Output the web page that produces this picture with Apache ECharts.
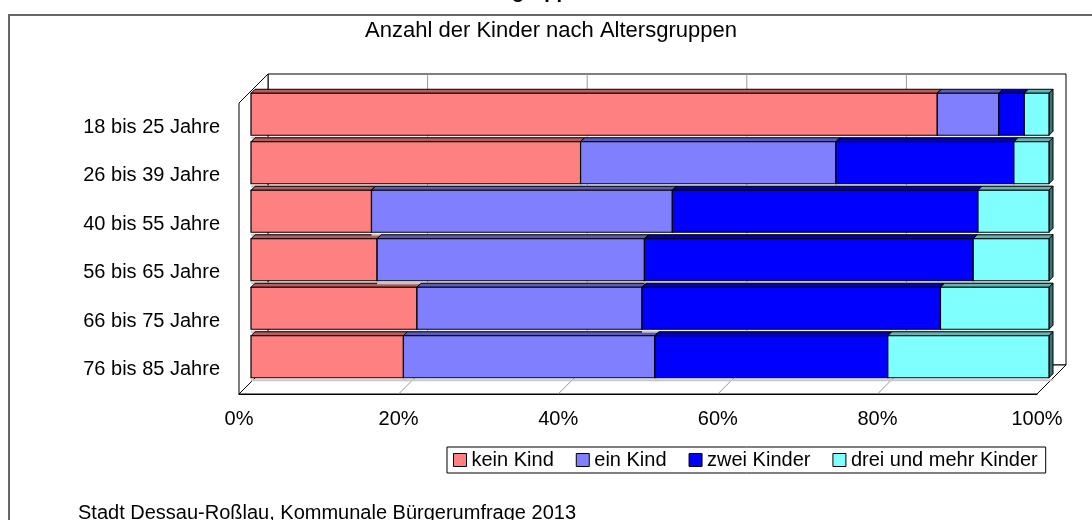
<!DOCTYPE html>
<html>
<head>
<meta charset="utf-8">
<title>Anzahl der Kinder nach Altersgruppen</title>
<script src="https://cdn.jsdelivr.net/npm/echarts@6/dist/echarts.min.js"></script>
<style>
html, body { margin: 0; padding: 0; background: #fff; }
#chart { width: 1092px; height: 520px; }
</style>
</head>
<body>
<div id="chart"></div>
<script>
// Daten (Prozent je Altersgruppe)
var categories = ['18 bis 25 Jahre', '26 bis 39 Jahre', '40 bis 55 Jahre', '56 bis 65 Jahre', '66 bis 75 Jahre', '76 bis 85 Jahre'];
var keinKind   = [86.0, 41.3, 15.1, 15.8, 20.8, 19.1];
var einKind    = [7.7, 32.0, 37.7, 33.5, 28.2, 31.5];
var zweiKinder = [3.2, 22.3, 38.3, 41.2, 37.4, 29.2];
var dreiKinder = [3.1, 4.4, 8.9, 9.5, 13.6, 20.2];
var seriesNames = ['kein Kind', 'ein Kind', 'zwei Kinder', 'drei und mehr Kinder'];
var xTicks = [0, 20, 40, 60, 80, 100];

var colors = ['#ff8080', '#8080ff', '#0000ff', '#80ffff'];
var FONT = '"Liberation Sans", Arial, sans-serif';
var BACK = 29;   // Tiefe der Rueckwand
var OFF = 12;    // Lage der Balken in der Tiefe
var DEPTH = 4;   // Balkentiefe

function shade(hex, f) {
  var n = parseInt(hex.slice(1), 16);
  var r = Math.round(((n >> 16) & 255) * f),
      g = Math.round(((n >> 8) & 255) * f),
      b = Math.round((n & 255) * f);
  return 'rgb(' + r + ',' + g + ',' + b + ')';
}

// gestapelte Werte -> [Kategorie, von, bis]
var allValues = [keinKind, einKind, zweiKinder, dreiKinder];
var stacked = allValues.map(function () { return []; });
categories.forEach(function (c, i) {
  var acc = 0;
  allValues.forEach(function (vals, s) {
    stacked[s].push([i, acc, acc + vals[i]]);
    acc += vals[i];
  });
});

// Rahmen des 3D-Diagramms (Rueckwand, Seitenwand, Boden)
var boxItem = function (params, api) {
  var cs = params.coordSys;
  var L = cs.x, T = cs.y, R = cs.x + cs.width, B = cs.y + cs.height, d = BACK;
  var edge = { fill: '#fff', stroke: '#000', lineWidth: 1 };
  var kids = [
    { type: 'rect', shape: { x: L + d, y: T - d, width: R - L, height: B - T }, style: edge },
    { type: 'polygon', shape: { points: [[L, T], [L + d, T - d], [L + d, B - d], [L, B]] }, style: edge },
    { type: 'polygon', shape: { points: [[L, B], [L + d, B - d], [R + d, B - d], [R, B]] }, style: edge }
  ];
  xTicks.forEach(function (v) {
    if (v === xTicks[0] || v === xTicks[xTicks.length - 1]) return;
    var px = api.coord([v, 0])[0];
    kids.push({ type: 'line', shape: { x1: px + d, y1: T - d, x2: px + d, y2: B - d }, style: { stroke: '#999', lineWidth: 1 } });
    kids.push({ type: 'line', shape: { x1: px, y1: B, x2: px + d, y2: B - d }, style: { stroke: '#999', lineWidth: 1 } });
  });
  return { type: 'group', children: kids };
};

// ein Balkenstueck als Quader
var barItem = function (params, api) {
  var cat = api.value(0), from = api.value(1), to = api.value(2);
  var band = api.size([0, 1])[1];
  var h = band * 0.865;
  var p0 = api.coord([from, cat]), p1 = api.coord([to, cat]);
  var x0 = p0[0] + OFF, x1 = p1[0] + OFF;
  var y0 = p0[1] - OFF - 1 - h / 2, y1 = y0 + h;
  var t = DEPTH;
  var col = colors[params.seriesIndex - 1];
  return {
    type: 'group',
    children: [
      { type: 'line', shape: { x1: x0, y1: y1 + 2.5, x2: x1 + t, y2: y1 + 2.5 }, style: { stroke: '#c8c8c8', lineWidth: 2 } },
      { type: 'polygon', shape: { points: [[x0, y0], [x1, y0], [x1 + t, y0 - t], [x0 + t, y0 - t]] },
        style: { fill: shade(col, 0.72), stroke: '#000', lineWidth: 1 } },
      { type: 'polygon', shape: { points: [[x1, y0], [x1 + t, y0 - t], [x1 + t, y1 - t], [x1, y1]] },
        style: { fill: shade(col, 0.45), stroke: '#000', lineWidth: 1 } },
      { type: 'rect', shape: { x: x0, y: y0, width: x1 - x0, height: h },
        style: { fill: col, stroke: '#000', lineWidth: 1.2 } }
    ]
  };
};

var myChart = echarts.init(document.getElementById('chart'));

var series = [{
  name: 'box',
  type: 'custom',
  renderItem: boxItem,
  clip: false,
  silent: true,
  encode: { x: 1, y: 0 },
  data: [[0, 0]],
  z: 1
}];
seriesNames.forEach(function (n, s) {
  series.push({
    name: n,
    type: 'custom',
    renderItem: barItem,
    clip: false,
    itemStyle: { color: colors[s], borderColor: '#000', borderWidth: 1 },
    encode: { x: [1, 2], y: 0 },
    data: stacked[s],
    z: 2
  });
});

var option = {
  animation: false,
  backgroundColor: '#fff',
  grid: { left: 239, right: 55, top: 103, bottom: 126, containLabel: false },
  xAxis: {
    type: 'value',
    min: xTicks[0],
    max: xTicks[xTicks.length - 1],
    interval: 20,
    splitLine: { show: false },
    axisLine: { show: true, lineStyle: { color: '#000', width: 1 } },
    axisTick: { show: false },
    axisLabel: { formatter: '{value}%', color: '#000', fontSize: 20, fontFamily: FONT, margin: 15 }
  },
  yAxis: {
    type: 'category',
    inverse: true,
    data: categories,
    axisLine: { show: false },
    axisTick: { show: false },
    splitLine: { show: false },
    axisLabel: { color: '#000', fontSize: 20, fontFamily: FONT, margin: 19 }
  },
  legend: {
    left: 447,
    top: 447,
    data: seriesNames.map(function (n, s) {
      return { name: n, icon: 'rect', itemStyle: { color: colors[s], borderColor: '#000', borderWidth: 1 } };
    }),
    itemWidth: 13,
    itemHeight: 13,
    itemGap: 22,
    borderColor: '#000',
    borderWidth: 1,
    borderRadius: 0,
    padding: [3, 8, 3, 6],
    textStyle: { fontSize: 20, color: '#000', fontFamily: FONT }
  },
  graphic: [
    { type: 'rect', z: -10, shape: { x: 9, y: 15, width: 1100, height: 520 }, style: { fill: 'none', stroke: '#666', lineWidth: 2 } },
    { type: 'text', x: 592, y: 2, style: { text: 'Altersgruppen', font: 'bold 20px ' + FONT, fill: '#000', textAlign: 'right', textVerticalAlign: 'bottom' } },
    { type: 'text', x: 551, y: 31, style: { text: 'Anzahl der Kinder nach Altersgruppen', font: '22px ' + FONT, fill: '#000', textAlign: 'center', textVerticalAlign: 'middle' } },
    { type: 'text', x: 78, y: 513, style: { text: 'Stadt Dessau-Roßlau, Kommunale Bürgerumfrage 2013', font: '20px ' + FONT, fill: '#000', textAlign: 'left', textVerticalAlign: 'middle' } }
  ],
  series: series
};

myChart.setOption(option);
</script>
</body>
</html>
